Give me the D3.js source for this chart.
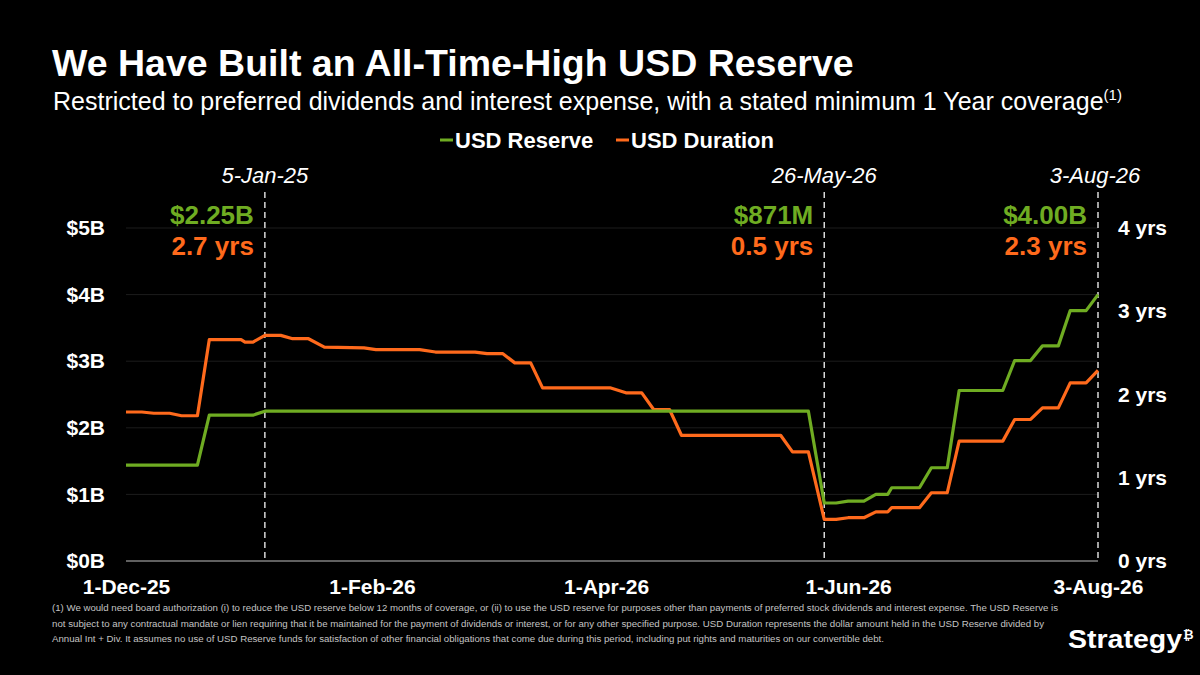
<!DOCTYPE html>
<html><head><meta charset="utf-8">
<script src="https://cdn.jsdelivr.net/npm/d3@7"></script>
<style>
body{margin:0;background:#000;}
svg{display:block;}
text{font-family:"Liberation Sans",Arial,Helvetica,sans-serif;}
</style>
</head><body>
<svg id="chart" width="1200" height="675"></svg>
<script>
// ---------- DATA ----------
const dates = [
 "2025-12-01","2025-12-05","2025-12-08","2025-12-12","2025-12-15","2025-12-19","2025-12-22","2025-12-30","2025-12-31",
 "2026-01-02","2026-01-05","2026-01-09","2026-01-12","2026-01-16","2026-01-20","2026-01-30",
 "2026-02-02","2026-02-13","2026-02-17","2026-02-27",
 "2026-03-02","2026-03-06","2026-03-09","2026-03-13","2026-03-16",
 "2026-04-02","2026-04-06","2026-04-10","2026-04-13","2026-04-17","2026-04-20",
 "2026-05-15","2026-05-18","2026-05-22","2026-05-26","2026-05-29",
 "2026-06-01","2026-06-05","2026-06-08","2026-06-11","2026-06-12","2026-06-19","2026-06-22","2026-06-26","2026-06-29",
 "2026-07-10","2026-07-13","2026-07-17","2026-07-20","2026-07-24","2026-07-27","2026-07-31",
 "2026-08-03"
];
const reserveB = [
 1.44,1.44,1.44,1.44,1.44,1.44,2.19,2.19,2.19,
 2.19,2.25,2.25,2.25,2.25,2.25,2.25,
 2.25,2.25,2.25,2.25,
 2.25,2.25,2.25,2.25,2.25,
 2.25,2.25,2.25,2.25,2.25,2.25,
 2.25,2.25,2.25,0.871,0.871,
 0.90,0.90,1.00,1.00,1.10,1.10,1.40,1.40,2.56,
 2.56,3.01,3.01,3.23,3.23,3.76,3.76,
 4.00
];
const durationYrs = [
 1.79,1.79,1.775,1.775,1.745,1.745,2.66,2.66,2.63,
 2.63,2.71,2.71,2.67,2.67,2.57,2.56,
 2.54,2.54,2.51,2.51,
 2.49,2.49,2.38,2.38,2.08,
 2.08,2.02,2.02,1.82,1.82,1.51,
 1.51,1.31,1.31,0.50,0.50,
 0.52,0.52,0.59,0.59,0.64,0.64,0.82,0.82,1.44,
 1.44,1.70,1.70,1.84,1.84,2.14,2.14,
 2.29
];
const leftTicks = [0,1,2,3,4,5];
const rightTicks = [0,1,2,3,4];
const xTickDates = ["2025-12-01","2026-02-01","2026-04-01","2026-06-01","2026-08-03"];
const markerDates = ["2026-01-05","2026-05-26","2026-08-03"];
const markerDateLabels = ["5-Jan-25","26-May-26","3-Aug-26"];
const markerReserveLabels = ["$2.25B","$871M","$4.00B"];
const markerDurationLabels = ["2.7 yrs","0.5 yrs","2.3 yrs"];
const seriesNames = ["USD Reserve","USD Duration"];
const footnoteLines = [
 "(1) We would need board authorization (i) to reduce the USD reserve below 12 months of coverage, or (ii) to use the USD reserve for purposes other than payments of preferred stock dividends and interest expense. The USD Reserve is",
 "not subject to any contractual mandate or lien requiring that it be maintained for the payment of dividends or interest, or for any other specified purpose. USD Duration represents the dollar amount held in the USD Reserve divided by",
 "Annual Int + Div. It assumes no use of USD Reserve funds for satisfaction of other financial obligations that come due during this period, including put rights and maturities on our convertible debt."
];
const footnoteWidths = [1006, 992, 832];

// ---------- STYLE ----------
const GREEN = "#6fac22";
const ORANGE = "#ff6a1c";
const svg = d3.select("#chart");
svg.append("rect").attr("width",1200).attr("height",675).attr("fill","#000");

const parse = d3.utcParse("%Y-%m-%d");
const pts = dates.map((d,i)=>({date:parse(d), r:reserveB[i], y:durationYrs[i]}));

const x = d3.scaleUtc().domain([parse(dates[0]), parse(dates[dates.length-1])]).range([126,1098]);
const yL = d3.scaleLinear().domain([0,5]).range([561,228]);
const yR = d3.scaleLinear().domain([0,4]).range([561,228]);

// title
svg.append("text").attr("x",52).attr("y",76).attr("fill","#fff")
  .attr("font-size",37.5).attr("font-weight","bold").text("We Have Built an All-Time-High USD Reserve");
const sub = svg.append("text").attr("x",53).attr("y",110).attr("fill","#fff").attr("font-size",25)
  .text("Restricted to preferred dividends and interest expense, with a stated minimum 1 Year coverage");
sub.append("tspan").attr("font-size",15).attr("dy",-10).text("(1)");

// legend
const legend = svg.append("g").attr("font-size",22).attr("font-weight","bold");
const legItems = [{name:seriesNames[0],c:GREEN,x:440},{name:seriesNames[1],c:ORANGE,x:616}];
legItems.forEach(it=>{
  legend.append("line").attr("x1",it.x).attr("x2",it.x+13).attr("y1",140).attr("y2",140)
    .attr("stroke",it.c).attr("stroke-width",3);
  legend.append("text").attr("x",it.x+15).attr("y",148).attr("fill","#fff").text(it.name);
});

// gridlines
svg.append("g").selectAll("line").data(leftTicks.filter(d=>d>0)).join("line")
  .attr("x1",x.range()[0]).attr("x2",x.range()[1])
  .attr("y1",d=>yL(d)).attr("y2",d=>yL(d))
  .attr("stroke","#1c1c1c").attr("stroke-width",1);

// baseline
svg.append("line").attr("x1",x.range()[0]).attr("x2",x.range()[1]).attr("y1",yL(0)).attr("y2",yL(0))
  .attr("stroke","#808080").attr("stroke-width",1.5);

// axes
const axL = svg.append("g").attr("transform",`translate(${x.range()[0]},0)`)
  .call(d3.axisLeft(yL).tickValues(leftTicks).tickFormat(d=>`$${d}B`).tickSize(0).tickPadding(21));
const axR = svg.append("g").attr("transform",`translate(${x.range()[1]},0)`)
  .call(d3.axisRight(yR).tickValues(rightTicks).tickFormat(d=>`${d} yrs`).tickSize(0).tickPadding(20));
const axB = svg.append("g").attr("transform",`translate(0,${yL(0)})`)
  .call(d3.axisBottom(x).tickValues(xTickDates.map(parse)).tickFormat(d3.utcFormat("%-d-%b-%y")).tickSize(0).tickPadding(18));
[axL,axR,axB].forEach(a=>{
  a.select(".domain").remove();
  a.selectAll("text").attr("fill","#fff").attr("font-size",21).attr("font-weight","bold")
    .attr("font-family",'"Liberation Sans",Arial,sans-serif');
});

// marker dashed lines
const mk = markerDates.map((d,i)=>({date:parse(d), lab:markerDateLabels[i], r:markerReserveLabels[i], y:markerDurationLabels[i]}));
svg.append("g").selectAll("line").data(mk).join("line")
  .attr("x1",d=>x(d.date)).attr("x2",d=>x(d.date)).attr("y1",192).attr("y2",yL(0))
  .attr("stroke","#d9d9d9").attr("stroke-width",1.5).attr("stroke-dasharray","6,4");

// lines
const lineR = d3.line().x(d=>x(d.date)).y(d=>yL(d.r));
const lineD = d3.line().x(d=>x(d.date)).y(d=>yR(d.y));
svg.append("path").datum(pts).attr("d",lineD).attr("fill","none").attr("stroke",ORANGE)
  .attr("stroke-width",3.2).attr("stroke-linejoin","round");
svg.append("path").datum(pts).attr("d",lineR).attr("fill","none").attr("stroke",GREEN)
  .attr("stroke-width",3.2).attr("stroke-linejoin","round");

// marker labels
const mg = svg.append("g");
mk.forEach((d,i)=>{
  const cx = Math.min(x(d.date), 1095);
  mg.append("text").attr("x",cx).attr("y",183).attr("text-anchor","middle").attr("fill","#fff")
    .attr("font-size",22).attr("font-style","italic").text(d.lab);
  mg.append("text").attr("x",x(d.date)-11).attr("y",224).attr("text-anchor","end").attr("fill",GREEN)
    .attr("font-size",26).attr("font-weight","bold").text(d.r);
  mg.append("text").attr("x",x(d.date)-11).attr("y",255).attr("text-anchor","end").attr("fill",ORANGE)
    .attr("font-size",26).attr("font-weight","bold").text(d.y);
});

// footnote
svg.append("g").selectAll("text").data(footnoteLines).join("text")
  .attr("x",52).attr("y",(d,i)=>611+i*15.5).attr("fill","#c4c4c4").attr("font-size",9.7)
  .attr("textLength",(d,i)=>footnoteWidths[i]).attr("lengthAdjust","spacingAndGlyphs").text(d=>d);

// logo
svg.append("text").attr("x",1068).attr("y",648).attr("fill","#fff").attr("font-size",25)
  .attr("font-weight","bold").attr("textLength",114).attr("lengthAdjust","spacingAndGlyphs").text("Strategy");
svg.append("text").attr("x",1183).attr("y",639).attr("fill","#fff").attr("font-size",13)
  .attr("font-weight","bold").attr("font-family","DejaVu Sans, sans-serif").text("\u20BF");
</script>
</body></html>
